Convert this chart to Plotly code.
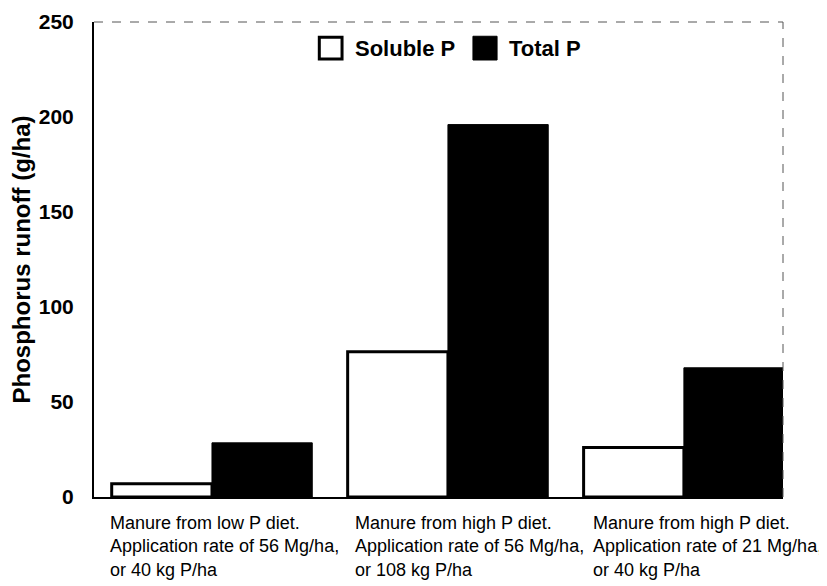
import plotly.graph_objects as go

categories = ["Manure from low P diet.<br>Application rate of 56 Mg/ha,<br>or 40 kg P/ha",
              "Manure from high P diet.<br>Application rate of 56 Mg/ha,<br>or 108 kg P/ha",
              "Manure from high P diet.<br>Application rate of 21 Mg/ha,<br>or 40 kg P/ha"]
cat_ids = ["low56", "high56", "high21"]
soluble_p = [7, 76.5, 26]
total_p = [28.5, 196, 68]
y_ticks = [0, 50, 100, 150, 200, 250]
label_shift = [-104, -95, -93]

FONT = "Liberation Sans, Arial, Helvetica, sans-serif"

fig = go.Figure()
fig.add_trace(go.Bar(x=cat_ids, y=soluble_p, name="Soluble P", showlegend=False,
                     marker=dict(color="white", line=dict(color="black", width=3))))
fig.add_trace(go.Bar(x=cat_ids, y=total_p, name="Total P", showlegend=False,
                     marker=dict(color="black", line=dict(color="black", width=1))))

for cid, lab, sh in zip(cat_ids, categories, label_shift):
    fig.add_annotation(x=cid, y=0, xref="x", yref="y", text=lab, showarrow=False,
                       xanchor="left", yanchor="top", align="left", xshift=sh, yshift=-14,
                       font=dict(family=FONT, size=18, color="black"))

# legend drawn manually (large square keys like the reference)
fig.add_shape(type="rect", xref="paper", yref="paper", x0=0.327, x1=0.360, y0=0.922, y1=0.968,
              line=dict(color="black", width=3), fillcolor="white")
fig.add_annotation(x=0.376, y=0.945, xref="paper", yref="paper", text="<b>Soluble P</b>",
                   showarrow=False, xanchor="left", yanchor="middle",
                   font=dict(family=FONT, size=22, color="black"))
fig.add_shape(type="rect", xref="paper", yref="paper", x0=0.550, x1=0.585, y0=0.920, y1=0.970,
              line=dict(color="black", width=1), fillcolor="black")
fig.add_annotation(x=0.599, y=0.945, xref="paper", yref="paper", text="<b>Total P</b>",
                   showarrow=False, xanchor="left", yanchor="middle",
                   font=dict(family=FONT, size=22, color="black"))

fig.add_shape(type="line", xref="paper", yref="paper", x0=0, x1=1, y0=1, y1=1,
              line=dict(color="#555", width=1, dash="dash"))
fig.add_shape(type="line", xref="paper", yref="paper", x0=1, x1=1, y0=0, y1=1,
              line=dict(color="#555", width=1, dash="dash"))

fig.update_layout(
    width=827, height=586,
    margin=dict(l=86, r=52, t=14, b=97),
    paper_bgcolor="white", plot_bgcolor="white",
    barmode="group", bargap=0.15, bargroupgap=0,
    font=dict(family=FONT, color="black"),
    showlegend=False,
    xaxis=dict(range=[-0.5, 2.42], showticklabels=False, showline=True, linecolor="black",
               linewidth=2, ticks="", showgrid=False, zeroline=False, automargin=False),
    yaxis=dict(range=[0, 250], tickvals=y_ticks, showline=True, linecolor="black", linewidth=2,
               ticks="", showgrid=False, zeroline=False, automargin=False,
               ticklabelstandoff=14, ticklabeloverflow="allow",
               tickfont=dict(size=21, weight="bold"),
               title=dict(text="Phosphorus runoff (g/ha)", font=dict(size=24, weight="bold"), standoff=9)),
)

fig.write_html("out.html")
